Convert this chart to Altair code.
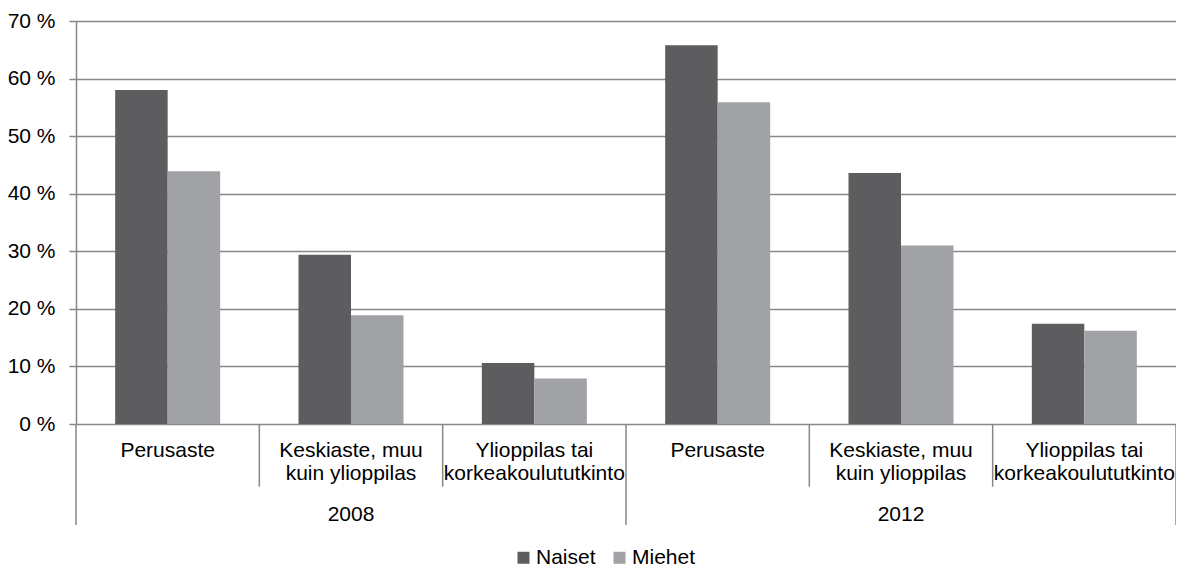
import altair as alt
import pandas as pd

# ---- data ----
years = ["2008", "2008", "2008", "2012", "2012", "2012"]
categories = [
    "Perusaste",
    "Keskiaste, muu\nkuin ylioppilas",
    "Ylioppilas tai\nkorkeakoulututkinto",
    "Perusaste",
    "Keskiaste, muu\nkuin ylioppilas",
    "Ylioppilas tai\nkorkeakoulututkinto",
]
naiset = [58.0, 29.4, 10.6, 65.8, 43.6, 17.4]
miehet = [43.9, 18.9, 7.9, 55.9, 31.0, 16.2]
series = ["Naiset", "Miehet"]
colors = ["#5d5d5f", "#a1a2a5"]
year_labels = ["2008", "2012"]
y_ticks = [0, 10, 20, 30, 40, 50, 60, 70]

keys = [f"{y}|{c}" for y, c in zip(years, categories)]

bars_df = pd.DataFrame({
    "key": keys * 2,
    "sex": [series[0]] * 6 + [series[1]] * 6,
    "value": naiset + miehet,
})
labels_df = pd.DataFrame({"key": keys, "label": categories})
years_df = pd.DataFrame({"key": [keys[1], keys[4]], "label": year_labels})
short_df = pd.DataFrame({"key": [keys[1], keys[2], keys[4], keys[5]]})
long_left_df = pd.DataFrame({"key": [keys[0], keys[3]]})
long_right_df = pd.DataFrame({"key": [keys[5]]})

GRID = "#878787"
FONT = "Liberation Sans"
W, H = 1100, 403

xscale = alt.Scale(domain=keys, paddingInner=0, paddingOuter=0)

bars = alt.Chart(bars_df).mark_bar().encode(
    x=alt.X("key:N", scale=xscale, axis=None, sort=keys),
    xOffset=alt.XOffset("sex:N", scale=alt.Scale(domain=series, paddingInner=0, paddingOuter=0.746)),
    y=alt.Y(
        "value:Q",
        scale=alt.Scale(domain=[0, 70], nice=False),
        axis=alt.Axis(
            values=y_ticks,
            labelExpr="datum.value + ' %'",
            title=None,
            grid=True,
            gridColor=GRID,
            gridWidth=1.5,
            domainColor=GRID,
            domainWidth=1.5,
            tickColor=GRID,
            tickWidth=1.5,
            tickSize=7,
            labelPadding=14,
            labelFont=FONT,
            labelFontSize=21,
            labelColor="#000000",
        ),
    ),
    color=alt.Color(
        "sex:N",
        scale=alt.Scale(domain=series, range=colors),
        legend=alt.Legend(
            orient="none",
            legendX=437,
            legendY=526,
            direction="horizontal",
            title=None,
            symbolType="square",
            symbolSize=144,
            symbolStrokeWidth=0,
            labelFont=FONT,
            labelFontSize=21,
            labelColor="#000000",
            labelOffset=2,
            columnPadding=13,
        ),
    ),
)

cat_text = alt.Chart(labels_df).mark_text(
    font=FONT, fontSize=21, lineBreak="\n", lineHeight=23.5,
    baseline="alphabetic", align="center", color="#000000",
).encode(
    x=alt.X("key:N", scale=xscale, axis=None),
    y=alt.value(435.7),
    text="label:N",
)

year_text = alt.Chart(years_df).mark_text(
    font=FONT, fontSize=21, baseline="alphabetic", align="center", color="#000000",
).encode(
    x=alt.X("key:N", scale=xscale, axis=None),
    y=alt.value(500),
    text="label:N",
)

short_rules = alt.Chart(short_df).mark_rule(color=GRID, strokeWidth=1.5).encode(
    x=alt.X("key:N", scale=xscale, axis=None, bandPosition=0),
    y=alt.value(H),
    y2=alt.value(465.7),
)

long_left = alt.Chart(long_left_df).mark_rule(color=GRID, strokeWidth=1.5).encode(
    x=alt.X("key:N", scale=xscale, axis=None, bandPosition=0),
    y=alt.value(H),
    y2=alt.value(504),
)

long_right = alt.Chart(long_right_df).mark_rule(color=GRID, strokeWidth=1.5).encode(
    x=alt.X("key:N", scale=xscale, axis=None, bandPosition=1),
    y=alt.value(H),
    y2=alt.value(504),
)

chart = alt.layer(
    bars, short_rules, long_left, long_right, cat_text, year_text
).properties(
    width=W,
    height=H,
    autosize=alt.AutoSizeParams(type="none"),
    padding={"left": 68, "top": 13, "right": 0, "bottom": 148},
    background="white",
).configure_view(stroke=None)

chart.save("out.html", embed_options={"renderer": "svg", "actions": False})
